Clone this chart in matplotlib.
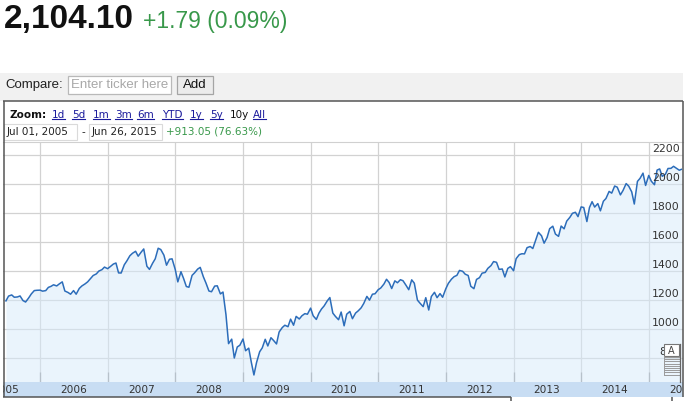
import numpy as np
import pandas as pd
import matplotlib
matplotlib.use("Agg")
import matplotlib.pyplot as plt
from matplotlib.patches import Rectangle
import matplotlib.transforms as mtransforms

# semi-monthly closes (1st and 15th of each month)
p2005 = [1194, 1227, 1235, 1219, 1221, 1228, 1196, 1186, 1215, 1242, 1265, 1267]
p2006 = [1268, 1261, 1265, 1287, 1294, 1305, 1297, 1311, 1325, 1262, 1252, 1240,
         1265, 1240, 1280, 1297, 1311, 1325, 1349, 1369, 1380, 1400, 1409, 1427]
p2007 = [1416, 1430, 1448, 1455, 1387, 1386, 1443, 1470, 1505, 1522, 1536, 1502,
         1530, 1552, 1433, 1411, 1454, 1484, 1557, 1548, 1509, 1440, 1481, 1484]
p2008 = [1411, 1325, 1395, 1349, 1293, 1288, 1370, 1388, 1413, 1425, 1360, 1317,
         1262, 1257, 1296, 1298, 1242, 1255, 1099, 899, 930, 800, 876, 888]
p2009 = [931, 850, 868, 770, 683, 768, 843, 870, 929, 883, 940, 921,
         897, 979, 1010, 1026, 1016, 1068, 1026, 1087, 1069, 1091, 1106, 1102]
p2010 = [1144, 1091, 1066, 1109, 1138, 1159, 1194, 1217, 1110, 1087, 1064, 1117,
         1022, 1102, 1121, 1071, 1110, 1125, 1146, 1176, 1225, 1199, 1240, 1243]
p2011 = [1271, 1283, 1310, 1343, 1321, 1279, 1332, 1319, 1340, 1333, 1300, 1271,
         1339, 1316, 1199, 1178, 1154, 1216, 1131, 1224, 1253, 1216, 1244, 1219]
p2012 = [1277, 1315, 1344, 1361, 1370, 1404, 1398, 1378, 1369, 1295, 1278, 1342,
         1354, 1385, 1390, 1418, 1437, 1465, 1460, 1411, 1414, 1359, 1418, 1430]
p2013 = [1402, 1485, 1513, 1519, 1518, 1561, 1569, 1555, 1614, 1667, 1643, 1592,
         1631, 1692, 1709, 1655, 1639, 1710, 1691, 1744, 1770, 1798, 1805, 1775]
p2014 = [1842, 1838, 1741, 1838, 1878, 1841, 1865, 1815, 1881, 1900, 1949, 1937,
         1986, 1978, 1925, 1955, 2003, 1985, 1946, 1862, 2018, 2039, 2075, 1990]
p2015 = [2059, 2019, 1995, 2096, 2104, 2053, 2067, 2107, 2108, 2122, 2107, 2095]
last_close = 2101

prices = p2005 + p2006 + p2007 + p2008 + p2009 + p2010 + p2011 + p2012 + p2013 + p2014 + p2015 + [last_close]
dates = list(pd.date_range("2005-07-01", periods=len(prices) - 1, freq="SMS")) + [pd.Timestamp("2015-06-26")]

y_ticks = [800, 1000, 1200, 1400, 1600, 1800, 2000, 2200]
years = list(range(2005, 2016))
zoom_links = ["1d", "5d", "1m", "3m", "6m", "YTD", "1y", "5y", "10y", "All"]
zoom_x = [52, 72, 93, 115, 137, 162, 190, 210, 230, 253]

W, H = 688, 401
fig = plt.figure(figsize=(W / 100, H / 100), dpi=100)


def fr(x0, y0, x1, y1):
    return [x0 / W, 1 - y1 / H, (x1 - x0) / W, (y1 - y0) / H]


# main chart
ax = fig.add_axes(fr(3, 142, 683, 382))
ax.set_axisbelow(True)
ax.fill_between(dates, prices, 0, color="#d6eafb", alpha=0.5, lw=0)
ax.plot(dates, prices, color="#2c6dba", lw=1.1)
ax.set_xlim(pd.Timestamp("2005-06-15"), pd.Timestamp("2015-07-05"))
ax.set_ylim(634.5, 2289.7)
ax.set_yticks(y_ticks)
ax.set_xticks([pd.Timestamp(f"{y}-01-01") for y in years[1:]])
ax.grid(color="#d2d2d2", lw=0.9)
ax.tick_params(left=False, labelleft=False, labelbottom=False, bottom=True,
               direction="in", length=7, color="#999999", width=0.9)
for s in ["left", "right", "bottom"]:
    ax.spines[s].set_visible(False)
ax.spines["top"].set_color("#d0d0d0")
trans = mtransforms.blended_transform_factory(ax.transAxes, ax.transData)
for v in y_ticks:
    ax.text(0.9955, v + 6, str(v), transform=trans, ha="right", va="bottom",
            fontsize=7.8, color="#333333", family="DejaVu Sans", zorder=5)

# year band
bax = fig.add_axes(fr(3, 382, 683, 397))
bax.set_facecolor("#c8ddf3")
bax.set_xlim(ax.get_xlim())
bax.set_ylim(0, 1)
bax.set_xticks([])
bax.set_yticks([])
for s in bax.spines.values():
    s.set_visible(False)
for y in years:
    bax.text(pd.Timestamp(f"{y}-07-01"), 0.45, str(y), ha="center", va="center",
             fontsize=7.6, color="#333333", family="DejaVu Sans", clip_on=True)

# page overlay in pixel coordinates
ov = fig.add_axes([0, 0, 1, 1])
ov.set_xlim(0, W)
ov.set_ylim(H, 0)
ov.axis("off")

ov.text(4, 28, "2,104.10", fontsize=24, fontweight="bold", family="Liberation Sans",
        color="#111111", va="baseline")
ov.text(143, 28, "+1.79 (0.09%)", fontsize=16.5, family="Liberation Sans",
        color="#38984a", va="baseline")

ov.add_patch(Rectangle((0, 73), 683, 28, fc="#f1f1f1", ec="none"))
ov.text(5, 85, "Compare:", fontsize=9.5, family="Liberation Sans", color="#222222", va="center")
ov.add_patch(Rectangle((68, 75.5), 103, 18, fc="white", ec="#b9b9b9", lw=0.9))
ov.text(71, 85, "Enter ticker here", fontsize=9.5, family="Liberation Sans", color="#a8a8a8", va="center")
ov.add_patch(Rectangle((177, 75.5), 36, 18, fc="#ececec", ec="#a5a5a5", lw=0.9))
ov.text(195, 85, "Add", fontsize=9.5, family="Liberation Sans", color="#111111", va="center", ha="center")

# chart box
box_kw = dict(color="#555555", lw=1.1, solid_capstyle="butt")
ov.plot([3, 683], [101, 101], **box_kw)
ov.plot([3.5, 3.5], [101, 397], **box_kw)
ov.plot([682.5, 682.5], [101, 397], **box_kw)
ov.plot([3, 511], [397, 397], **box_kw)
ov.plot([511, 511], [397, 401], **box_kw)
ov.plot([672, 672], [397, 401], **box_kw)

ov.text(9, 114.5, "Zoom:", fontsize=7.5, fontweight="bold", family="DejaVu Sans", color="#111111", va="center")
link_texts = []
for lab, x in zip(zoom_links, zoom_x):
    c = "#111111" if lab == "10y" else "#1a1a9c"
    t = ov.text(x, 114.5, lab, fontsize=7.5, family="DejaVu Sans", color=c, va="center")
    if lab != "10y":
        link_texts.append(t)

ov.add_patch(Rectangle((4, 124), 73, 16, fc="white", ec="#dadada", lw=0.8))
ov.text(7, 132, "Jul 01, 2005", fontsize=7.5, family="DejaVu Sans", color="#222222", va="center")
ov.text(83, 132, "-", fontsize=7.5, family="DejaVu Sans", color="#222222", va="center", ha="center")
ov.add_patch(Rectangle((89, 124), 73, 16, fc="white", ec="#dadada", lw=0.8))
ov.text(92, 132, "Jun 26, 2015", fontsize=7.5, family="DejaVu Sans", color="#222222", va="center")
ov.text(166, 132, "+913.05 (76.63%)", fontsize=7.5, family="DejaVu Sans", color="#38984a", va="center")

# news flag stack near the 800 label
ov.add_patch(Rectangle((664, 344), 15, 12, fc="white", ec="#777777", lw=0.8, zorder=6))
ov.text(671.5, 350.5, "A", fontsize=7, family="DejaVu Sans", color="#444444",
        ha="center", va="center", zorder=7)
for yy in np.arange(357, 375, 2.2):
    ov.plot([664, 679], [yy, yy], color="#9a9a9a", lw=0.7, zorder=6)
ov.plot([664, 664], [356, 374], color="#9a9a9a", lw=0.7, zorder=6)
ov.plot([679.5, 679.5], [344, 382], color="#666666", lw=0.9, zorder=6)

fig.canvas.draw()
inv = ov.transData.inverted()
for t in link_texts:
    bb = t.get_window_extent()
    (x0, yb), (x1, _) = inv.transform([(bb.x0, bb.y0), (bb.x1, bb.y1)])
    ov.plot([x0, x1], [yb - 0.3, yb - 0.3], color="#1a1a9c", lw=0.8)

fig.savefig("out.png", dpi=100)
